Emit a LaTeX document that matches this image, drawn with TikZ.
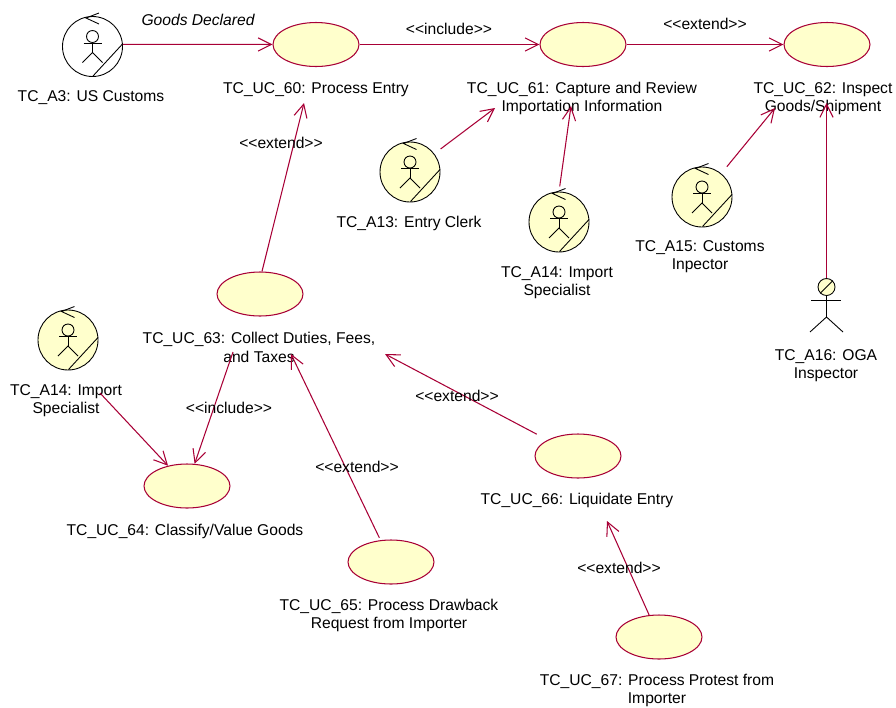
\documentclass[tikz,border=0pt]{standalone}
\usepackage{fontspec}
\setmainfont{Liberation Sans}
\usetikzlibrary{arrows.meta,shapes.geometric}

\definecolor{ucfill}{HTML}{FFFFCC}
\definecolor{ucline}{HTML}{A80036}

\begin{document}
\begin{tikzpicture}[
	x=0.02cm, y=-0.02cm,
	ucnode/.style={ellipse, draw=ucline, fill=ucfill, line width=0.6pt, minimum width=1.72cm, minimum height=0.88cm, inner sep=0pt},
	actnode/.style={circle, draw=black, line width=0.5pt, minimum size=1.2cm, inner sep=0pt},
	lblnode/.style={font=\fontsize{8.9}{10.4}\selectfont, align=center, inner sep=0pt},
	assoc/.style={draw=ucline, line width=0.6pt, -{Straight Barb[length=7.5pt, width=7.5pt, line width=0.6pt]}},
	]
	\useasboundingbox (0,0) rectangle (896,707);
	
	%Use cases
	\node[ucnode] (uc60) at (316,44.5) {};
	\node[ucnode] (uc61) at (583,44.5) {};
	\node[ucnode] (uc62) at (827,44.5) {};
	\node[ucnode] (uc63) at (260,294)  {};
	\node[ucnode] (uc64) at (187,486)  {};
	\node[ucnode] (uc65) at (391,562)  {};
	\node[ucnode] (uc66) at (578,456)  {};
	\node[ucnode] (uc67) at (659,637)  {};
	
	%Actors
	\node[actnode]              (a3)   at (92.5,46.5) {};
	\node[actnode, fill=ucfill] (a13)  at (410,172)   {};
	\node[actnode, fill=ucfill] (a14r) at (559,222)   {};
	\node[actnode, fill=ucfill] (a15)  at (702,197)   {};
	\node[actnode, fill=ucfill] (a14l) at (68,340)    {};
	\node[circle, draw=black, fill=ucfill, line width=0.5pt, minimum size=0.34cm, inner sep=0pt] (a16) at (826.5,287) {};
	
	\foreach \act in {a3,a13,a14r,a15,a14l} {
		\begin{scope}[shift={(\act.center)}, line width=0.5pt]
			\draw (0,-10) circle (0.12cm);
			\draw (0,-4) -- (0,6);
			\draw (-9,-3.5) -- (9,-3.5);
			\draw (-10,16) -- (0,6) -- (10,16);
			\draw (30,-2.5) -- (0.5,29.5);
			\draw (6.5,-33.5) -- (-6.5,-28.5) -- (6.5,-22.5);
		\end{scope}
	}
	
	%Standing actor
	\coordinate (a16hip)  at (826.5,317);
	\coordinate (a16armL) at (811,300);
	\coordinate (a16armR) at (841,300);
	\coordinate (a16legL) at (810,332);
	\coordinate (a16legR) at (843,332);
	\draw[line width=0.5pt] (a16) -- (a16hip);
	\draw[line width=0.5pt] (a16armL) -- (a16armR);
	\draw[line width=0.5pt] (a16legL) -- (a16hip) -- (a16legR);
	\draw[line width=0.5pt] (a16.225) -- (a16.45);
	
	%Labels
	\node[lblnode] (l3)   at (91,97.5)   {TC\_A3: US Customs};
	\node[lblnode] (l60)  at (316,89.5)  {TC\_UC\_60: Process Entry};
	\node[lblnode] (l61)  at (582,98.5)  {TC\_UC\_61: Capture and Review\\Importation Information};
	\node[lblnode] (l62)  at (823,98.5)  {TC\_UC\_62: Inspect\\Goods/Shipment};
	\node[lblnode] (l13)  at (409,223.5) {TC\_A13: Entry Clerk};
	\node[lblnode] (l14r) at (557,282.5) {TC\_A14: Import\\Specialist};
	\node[lblnode] (l15)  at (700,256.5) {TC\_A15: Customs\\Inpector};
	\node[lblnode] (l16)  at (826,365.5) {TC\_A16: OGA\\Inspector};
	\node[lblnode] (l14l) at (66,400.5)  {TC\_A14: Import\\Specialist};
	\node[lblnode] (l63)  at (259,347.5) {TC\_UC\_63: Collect Duties, Fees,\\and Taxes};
	\node[lblnode] (l64)  at (185,531)   {TC\_UC\_64: Classify/Value Goods};
	\node[lblnode] (l65)  at (389,615.5) {TC\_UC\_65: Process Drawback\\Request from Importer};
	\node[lblnode] (l66)  at (577,500)   {TC\_UC\_66: Liquidate Entry};
	\node[lblnode] (l67)  at (657,690.5) {TC\_UC\_67: Process Protest from\\Importer};
	
	%Arrow ends
	\coordinate (t60)  at (304,103);
	\coordinate (t61a) at (495,108);
	\coordinate (t61b) at (571,106);
	\coordinate (t62a) at (775,108);
	\coordinate (t62b) at (826.5,103);
	\coordinate (t63a) at (291,354);
	\coordinate (t63b) at (385,354);
	\coordinate (t66)  at (607,521);
	\coordinate (s63)  at (233,352);
	\coordinate (s14)  at (100,393);
	
	%Lines
	\draw[assoc] (a3.4) -- (uc60);
	\draw[assoc] (uc60) -- (uc61);
	\draw[assoc] (uc61) -- (uc62);
	\draw[assoc, shorten <=4.5pt] (a13) -- (t61a);
	\draw[assoc, shorten <=3pt] (a14r.north) -- (t61b);
	\draw[assoc, shorten <=5pt] (a15) -- (t62a);
	\draw[assoc] (a16) -- (t62b);
	\draw[assoc] (uc63.85) -- (t60);
	\draw[assoc] (s63) -- (uc64);
	\draw[assoc] (s14) -- (uc64);
	\draw[assoc, shorten <=1.5pt] (uc65) -- (t63a);
	\draw[assoc, shorten <=7pt] (uc66) -- (t63b);
	\draw[assoc] (uc67) -- (t66);
	
	%Link labels
	\node[lblnode, font=\fontsize{8.9}{10.4}\selectfont\itshape] (goods) at (198,20) {Goods Declared};
	\node[lblnode] (inc1) at (449,29)  {<{}<include>{}>};
	\node[lblnode] (ext1) at (705,24)  {<{}<extend>{}>};
	\node[lblnode] (ext2) at (281,143) {<{}<extend>{}>};
	\node[lblnode] (inc2) at (229,408) {<{}<include>{}>};
	\node[lblnode] (ext3) at (357,467) {<{}<extend>{}>};
	\node[lblnode] (ext4) at (457,396) {<{}<extend>{}>};
	\node[lblnode] (ext5) at (619,568) {<{}<extend>{}>};
\end{tikzpicture}
\end{document}
